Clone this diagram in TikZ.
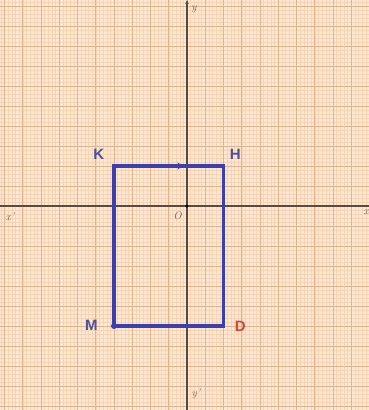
\documentclass[tikz,border=0pt]{standalone}
\usepackage{fontspec}
\newfontfamily\lblfont{Liberation Sans}
\usetikzlibrary{arrows.meta}
\definecolor{paper}{HTML}{FCE8D4}
\definecolor{minorline}{HTML}{F5D3B3}
\definecolor{majorline}{HTML}{DDB68F}
\definecolor{axiscol}{HTML}{5A4A3C}
\definecolor{rectblue}{HTML}{3B40B0}
\definecolor{ptblue}{HTML}{4A4E9E}
\definecolor{ptred}{HTML}{D8443A}
\definecolor{labgrey}{HTML}{6A6260}
\tikzset{
  minorgrid/.style={draw=minorline, line width=0.35pt},
  majorgrid/.style={draw=majorline, line width=0.8pt},
  axisline/.style={draw=axiscol, line width=1.2pt},
  rectline/.style={draw=rectblue, line width=3.8pt, line join=miter},
  ptlabel/.style={font=\lblfont\bfseries\fontsize{15}{15}\selectfont, text=ptblue},
  axlabel/.style={font=\itshape\fontsize{11}{11}\selectfont, text=labgrey}
}
\begin{document}
\begin{tikzpicture}[x=36.5pt,y=40pt]
\useasboundingbox (-187pt,-204pt) rectangle (182pt,206pt);
\fill[paper] (-187pt,-204pt) rectangle (182pt,206pt);
\draw[minorgrid, xstep=0.1, ystep=0.1] (-187pt,-204pt) grid (182pt,206pt);
\draw[majorgrid, xstep=0.5, ystep=0.5] (-187pt,-204pt) grid (182pt,206pt);
% axes
\coordinate (xl) at (-187pt,0);
\coordinate (xr) at (182pt,0);
\coordinate (yb) at (0,-204pt);
\coordinate (yt) at (0,206pt);
\draw[axisline] (xl) -- (xr);
\draw[axisline, -{Stealth[length=4pt,width=3.5pt]}] (yb) -- (yt);
\node[circle, fill=black, inner sep=0pt, minimum size=3.5pt] (O) at (0,0) {};
\node[axlabel, anchor=north east] (Olbl) at (-0.05,-0.06) {O};
\node[axlabel] (xplbl) at (-177pt,-11pt) {x'};
\node[axlabel, anchor=east] (xlbl) at (185pt,-6pt) {x};
\node[axlabel] (ylbl) at (7pt,197pt) {y};
\node[axlabel] (yplbl) at (9pt,-188pt) {y'};
% rectangle
\coordinate (K) at (-2,1);
\coordinate (H) at (1,1);
\coordinate (D) at (1,-3);
\coordinate (M) at (-2,-3);
\draw[rectline] (K) -- (H) -- (D) -- (M) -- cycle;
\coordinate (a1) at (-0.4,1);
\coordinate (a2) at (-0.1,1);
\draw[draw=rectblue, line width=1.2pt, -{Stealth[length=6pt,width=7pt]}] (a1) -- (a2);
\fill[rectblue] (M) circle (3pt);
\node[ptlabel] (Klbl) at (-2.42,1.28) {K};
\node[ptlabel] (Hlbl) at (1.32,1.28) {H};
\node[ptlabel] (Mlbl) at (-2.62,-2.98) {M};
\node[ptlabel, text=ptred] (Dlbl) at (1.46,-3.01) {D};
\end{tikzpicture}
\end{document}
